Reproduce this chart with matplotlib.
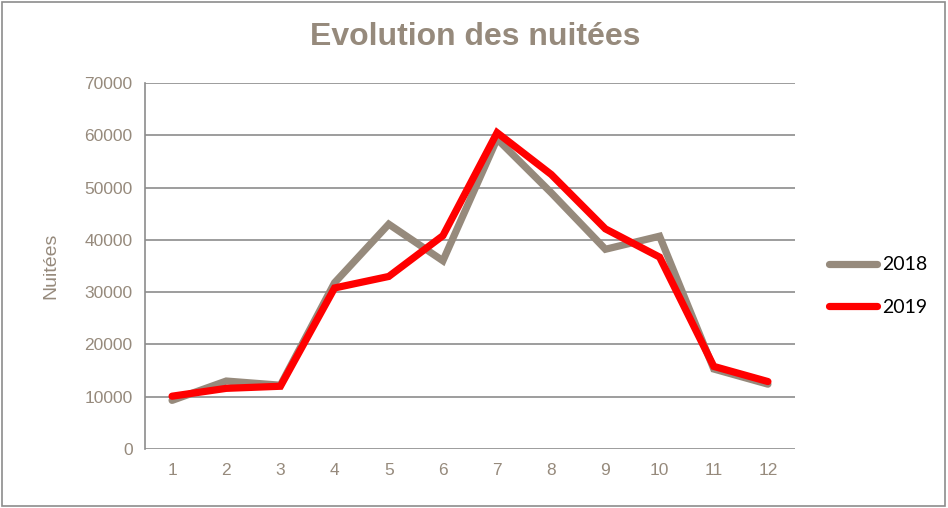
import matplotlib.pyplot as plt
from matplotlib.patches import Rectangle

months = list(range(1, 13))
nuitees_2018 = [9300, 13000, 12200, 31800, 43000, 36000, 59300, 49000, 38200, 40700, 15300, 12400]
nuitees_2019 = [10100, 11600, 12000, 30800, 33000, 40800, 60500, 52500, 42100, 36700, 15800, 12900]
y_ticks = list(range(0, 70001, 10000))

brown = '#968A7C'
grid_col = '#8C8C8C'
plt.rcParams['font.family'] = ['Liberation Sans', 'DejaVu Sans']

fig = plt.figure(figsize=(9.48, 5.08), dpi=100)
ax = fig.add_axes([145 / 948, 1 - 449 / 508, 650 / 948, 366 / 508])

ax.plot(months, nuitees_2018, color=brown, lw=5.2, solid_capstyle='round',
        solid_joinstyle='miter', label='2018', zorder=3)
ax.plot(months, nuitees_2019, color='#FF0000', lw=5.2, solid_capstyle='round',
        solid_joinstyle='miter', label='2019', zorder=4)

ax.set_xlim(0.5, 12.5)
ax.set_ylim(0, 70000)
ax.set_xticks(months)
ax.set_yticks(y_ticks)
ax.tick_params(length=0, labelsize=12.5, labelcolor=brown, pad=9)
ax.tick_params(axis='x', pad=10)
ax.grid(axis='y', color=grid_col, lw=1.2)
ax.set_axisbelow(True)
for s in ['top', 'right', 'bottom']:
    ax.spines[s].set_visible(False)
ax.spines['left'].set_color(grid_col)
ax.spines['left'].set_linewidth(1.2)

ax.set_ylabel('Nuitées', fontsize=14, color=brown, labelpad=18)
fig.text(475 / 948, 1 - 37 / 508, 'Evolution des nuitées', ha='center', va='center',
         fontsize=23, fontweight='bold', color=brown)

leg = ax.legend(loc='center left', bbox_to_anchor=(1.025, 0.445), frameon=False,
                prop={'family': 'Lato', 'size': 14}, handlelength=2.5,
                handletextpad=0.25, labelspacing=1.3)

fig.patches.append(Rectangle((0.002, 0.003), 0.995, 0.993, transform=fig.transFigure,
                             fill=False, edgecolor='#8C8C8C', lw=1.2))

plt.savefig('out.png', dpi=100)
